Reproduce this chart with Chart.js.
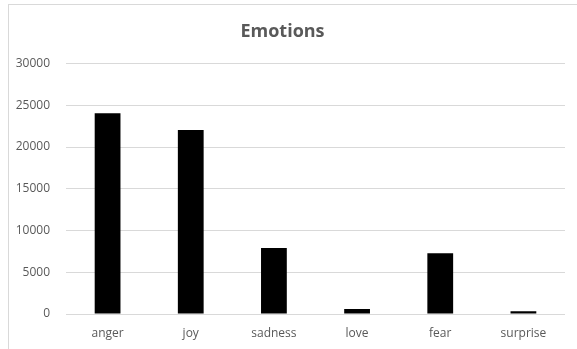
<!DOCTYPE html>
<html>
<head>
<meta charset="utf-8">
<script src="https://cdn.jsdelivr.net/npm/chart.js@4/dist/chart.umd.min.js"></script>
<style>
  html, body { margin: 0; padding: 0; background: #fff; overflow: hidden; }
  #wrap { position: relative; width: 577px; height: 349px; }
  #frame {
    position: absolute; left: 8px; top: 4px; width: 600px; height: 400px;
    border: 1px solid #d9d9d9; box-sizing: border-box;
  }
  canvas { position: absolute; left: 0; top: 0; }
</style>
</head>
<body>
<div id="wrap">
  <div id="frame"></div>
  <canvas id="chartEmotions" width="577" height="349"></canvas>
</div>
<script>
const emociones = ["anger", "joy", "sadness", "love", "fear", "surprise"];
const conteos = [24050, 22050, 7920, 600, 7280, 330];
const ticksY = [0, 5000, 10000, 15000, 20000, 25000, 30000];

const fuente = "'Open Sans', 'Liberation Sans', sans-serif";
const gris = "#595959";

const myChart = new Chart(document.getElementById("chartEmotions"), {
  type: "bar",
  data: {
    labels: emociones,
    datasets: [
      {
        label: "Emotions",
        data: conteos,
        backgroundColor: "#000000",
        borderWidth: 0,
        categoryPercentage: 1,
        barPercentage: 0.31,
      },
    ],
  },
  options: {
    responsive: false,
    animation: false,
    layout: {
      padding: { left: 0, right: 12, top: 0, bottom: 0 },
    },
    scales: {
      x: {
        grid: { display: false },
        border: { display: false },
        ticks: {
          color: gris,
          font: { family: fuente, size: 12 },
          padding: 4,
        },
        afterFit: (scale) => {
          scale.height = 35;
        },
      },
      y: {
        min: 0,
        max: 30000,
        afterBuildTicks: (scale) => {
          scale.ticks = ticksY.map((v) => ({ value: v }));
        },
        grid: { color: "#d9d9d9", drawTicks: false, lineWidth: 1 },
        border: { display: false },
        ticks: {
          color: gris,
          font: { family: fuente, size: 12 },
          padding: 16,
          // sin separador de miles
          callback: (valor) => String(valor),
        },
        afterFit: (scale) => {
          scale.width = 66;
        },
      },
    },
    plugins: {
      legend: { display: false },
      tooltip: { enabled: false },
      title: {
        display: true,
        text: "Emotions",
        color: gris,
        font: { family: fuente, size: 18, weight: "bold" },
        padding: { top: 21, bottom: 21 },
      },
    },
  },
});
</script>
</body>
</html>
